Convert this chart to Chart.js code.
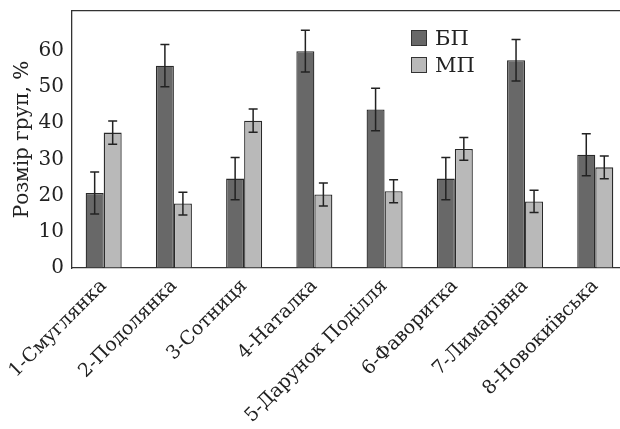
<!DOCTYPE html>
<html>
<head>
<meta charset="utf-8">
<script src="https://cdn.jsdelivr.net/npm/chart.js@4"></script>
<style>
  body { margin: 0; background: #fff; }
  #wrap { position: relative; width: 620px; height: 429px; }
  #legend { position: absolute; left: 411px; top: 24px; font: 21px "DejaVu Serif", serif; color: #222; }
  #legend .row { display: flex; align-items: center; height: 27px; }
  #legend .box { width: 14px; height: 14px; border: 1px solid #333; margin-right: 8px; }
</style>
</head>
<body>
<div id="wrap">
  <canvas id="chart"></canvas>
  <div id="legend"></div>
</div>
<script>
// sorts, in axis order
const varieties = ["1-Смуглянка", "2-Подолянка", "3-Сотниця", "4-Наталка",
  "5-Дарунок Поділля", "6-Фаворитка", "7-Лимарівна", "8-Новокиївська"];

// БП group, % and its error
const bpValues = [20.7, 55.9, 24.7, 59.9, 43.8, 24.7, 57.4, 31.3];
const bpErrors = [5.8, 5.85, 5.85, 5.75, 5.85, 5.85, 5.75, 5.8];

// МП group, % and its error
const mpValues = [37.4, 17.8, 40.7, 20.3, 21.2, 32.9, 18.4, 27.8];
const mpErrors = [3.2, 3.15, 3.2, 3.2, 3.2, 3.15, 3.1, 3.15];

const yTicks = [0, 10, 20, 30, 40, 50, 60];

const serif = "'DejaVu Serif', serif";
const xMin = 0.549, xMax = 8.352;

// --- error bars drawn from dataset.errors through the y scale ---
const errorBars = {
  id: "errorBars",
  afterDatasetsDraw(chart) {
    const { ctx } = chart;
    const y = chart.scales.y;
    ctx.save();
    ctx.strokeStyle = "#222";
    ctx.lineWidth = 1.5;
    chart.data.datasets.forEach((ds, di) => {
      const meta = chart.getDatasetMeta(di);
      meta.data.forEach((bar, i) => {
        const v = ds.data[i].y, e = ds.errors[i];
        const top = y.getPixelForValue(v + e);
        const bot = y.getPixelForValue(v - e);
        const cap = 4.5;
        ctx.beginPath();
        ctx.moveTo(bar.x, top); ctx.lineTo(bar.x, bot);
        ctx.moveTo(bar.x - cap, top); ctx.lineTo(bar.x + cap, top);
        ctx.moveTo(bar.x - cap, bot); ctx.lineTo(bar.x + cap, bot);
        ctx.stroke();
      });
    });
    ctx.restore();
  }
};

const toPoints = vals => vals.map((v, i) => ({ x: i + 1, y: v }));

const chart = new Chart(document.getElementById("chart"), {
  type: "bar",
  data: {
    datasets: [
      {
        label: "БП",
        data: toPoints(bpValues),
        errors: bpErrors,
        backgroundColor: "#686868",
        borderColor: "#2a2a2a",
        borderWidth: 1.3
      },
      {
        label: "МП",
        data: toPoints(mpValues),
        errors: mpErrors,
        backgroundColor: "#b9b9b9",
        borderColor: "#2a2a2a",
        borderWidth: 1.3
      }
    ]
  },
  options: {
    responsive: true,
    maintainAspectRatio: false,
    animation: false,
    categoryPercentage: 0.513,
    barPercentage: 1,
    layout: { padding: { top: 11, right: 0, left: 0, bottom: 0 } },
    plugins: {
      legend: { display: false },
      tooltip: { enabled: false }
    },
    scales: {
      x: {
        type: "linear",
        offset: false,
        bounds: "data",
        min: xMin,
        max: xMax,
        afterBuildTicks: s => { s.ticks = varieties.map((_, i) => ({ value: i + 1 })); },
        afterFit: s => { s.height = 161; s.paddingLeft = 0; s.paddingRight = 0; },
        grid: { display: true, offset: false, drawOnChartArea: false, drawTicks: false },
        border: { color: "#333", width: 1.3 },
        ticks: {
          autoSkip: false,
          minRotation: 45,
          maxRotation: 45,
          padding: 7,
          color: "#222",
          font: { family: serif, size: 19 },
          callback: v => varieties[v - 1]
        }
      },
      x2: {
        type: "linear",
        position: "top",
        offset: false,
        bounds: "data",
        min: xMin,
        max: xMax,
        afterFit: s => { s.height = 0; },
        grid: { display: true, offset: false, drawOnChartArea: false, drawTicks: false },
        border: { color: "#333", width: 1.3 },
        ticks: { display: false }
      },
      y: {
        min: 0,
        max: 71,
        afterBuildTicks: s => { s.ticks = yTicks.map(v => ({ value: v })); },
        afterFit: s => { s.width = 72; s.paddingTop = 0; s.paddingBottom = 0; },
        grid: { display: true, drawOnChartArea: false, drawTicks: false },
        border: { color: "#333", width: 1.3 },
        ticks: {
          padding: 8,
          color: "#222",
          font: { family: serif, size: 20 }
        },
        title: {
          display: true,
          text: "Розмір груп, %",
          color: "#222",
          padding: { top: 11, bottom: 0 },
          font: { family: serif, size: 20 }
        }
      }
    }
  },
  plugins: [errorBars]
});

// --- legend built from the datasets ---
const legendEl = document.getElementById("legend");
chart.data.datasets.forEach(ds => {
  const row = document.createElement("div");
  row.className = "row";
  const box = document.createElement("span");
  box.className = "box";
  box.style.background = ds.backgroundColor;
  const txt = document.createElement("span");
  txt.textContent = ds.label;
  row.appendChild(box);
  row.appendChild(txt);
  legendEl.appendChild(row);
});
</script>
</body>
</html>
